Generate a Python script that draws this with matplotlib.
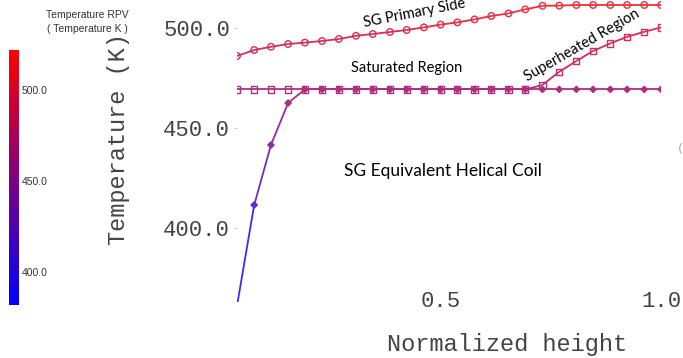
import matplotlib
matplotlib.use("Agg")
import matplotlib.pyplot as plt
import numpy as np
from matplotlib.collections import LineCollection
from matplotlib.colors import LinearSegmentedColormap, Normalize
from matplotlib.colorbar import ColorbarBase

# data
heights = [0.038, 0.077, 0.115, 0.154, 0.192, 0.231, 0.269, 0.308, 0.346, 0.385,
           0.423, 0.462, 0.500, 0.538, 0.577, 0.615, 0.654, 0.692, 0.731, 0.769,
           0.808, 0.846, 0.885, 0.923, 0.962, 1.000]
primary_T = [485.9, 488.9, 490.5, 491.9, 492.6, 493.4, 494.4, 496.0, 496.9, 497.9,
             498.9, 500.2, 501.6, 502.7, 504.2, 505.9, 507.2, 509.2, 511.0, 511.1,
             511.4, 511.4, 511.4, 511.4, 511.4, 511.4]
fluid_T = [469.2, 469.2, 469.2, 469.2, 469.2, 469.2, 469.2, 469.2, 469.2, 469.2,
           469.2, 469.2, 469.2, 469.2, 469.2, 469.2, 469.2, 469.2, 471.4, 478.0,
           483.4, 488.4, 492.2, 495.5, 498.0, 500.2]
wall_T = [361.0, 411.4, 441.4, 462.4, 469.2, 469.2, 469.2, 469.2, 469.2, 469.2,
          469.2, 469.2, 469.2, 469.2, 469.2, 469.2, 469.2, 469.2, 469.2, 469.2,
          469.2, 469.2, 469.2, 469.2, 469.2, 469.2]
cbar_ticks = [400.0, 450.0, 500.0]
T_min, T_max = 382.0, 522.0

cmap = LinearSegmentedColormap.from_list("rpv", ["#0000ff", "#ff0000"])
norm = Normalize(T_min, T_max)

fig = plt.figure(figsize=(6.83, 3.58), dpi=100)
ax = fig.add_axes([237 / 683, 56 / 358, 424 / 683, 302 / 358])
for s in ax.spines.values():
    s.set_visible(False)


def line_col(v):
    # line colours look a bit washed out in the screenshot
    c = np.array(cmap(norm(v)))
    c[..., :3] = c[..., :3] * 0.82 + 0.18
    return c


def draw(x, y, marker, ms, filled):
    x = np.asarray(x)
    y = np.asarray(y)
    pts = np.column_stack([x, y]).reshape(-1, 1, 2)
    segs = np.concatenate([pts[:-1], pts[1:]], axis=1)
    mids = (y[:-1] + y[1:]) / 2
    lc = LineCollection(segs, colors=line_col(mids), linewidths=1.3)
    ax.add_collection(lc)
    cols = line_col(y)
    ax.scatter(x, y, s=ms, marker=marker, facecolors=cols if filled else "none",
               edgecolors=cols, linewidths=1.0, zorder=3)


draw(heights, primary_T, "o", 22, False)
draw(heights, fluid_T, "s", 20, False)
draw(heights, wall_T, "D", 10, True)

ax.set_xlim(0.038, 1.0)
ax.set_ylim(362.9, 513.9)
ax.set_xticks([0.5, 1.0])
ax.set_xticklabels(["0.5", "1.0"])
ax.set_yticks([400, 450, 500])
ax.set_yticklabels(["400.0", "450.0", "500.0"])
mono = "Liberation Mono"
ax.tick_params(axis="y", length=2, color="#cccccc", pad=3, labelsize=16, labelcolor="#444444")
ax.tick_params(axis="x", length=0, pad=-8, labelsize=16, labelcolor="#444444")
for lab in ax.get_xticklabels() + ax.get_yticklabels():
    lab.set_family(mono)

fig.text(118 / 683, 1 - 139 / 358, "Temperature (K)", rotation=90, family=mono,
         fontsize=17, color="#444444", ha="center", va="center")
fig.text(507 / 683, 1 - 345 / 358, "Normalized height", family=mono,
         fontsize=17, color="#444444", ha="center", va="center")

# annotations
ann = "Lato"
fig.text(414 / 683, 1 - 13 / 358, "SG Primary Side", family=ann, fontsize=10.5,
         rotation=11, ha="center", va="center", color="black")
fig.text(407 / 683, 1 - 68 / 358, "Saturated Region", family=ann, fontsize=10.5,
         ha="center", va="center", color="black")
fig.text(443 / 683, 1 - 171 / 358, "SG Equivalent Helical Coil", family=ann,
         fontsize=12.5, ha="center", va="center", color="black")
fig.text(582 / 683, 1 - 45 / 358, "Superheated Region", family=ann, fontsize=10.5,
         rotation=30, ha="center", va="center", color="black")
fig.text(680 / 683, 1 - 150 / 358, "(", fontsize=9, color="#aaaaaa",
         ha="center", va="center")

# colorbar
cax = fig.add_axes([9 / 683, 53 / 358, 10 / 683, 255 / 358])
cb = ColorbarBase(cax, cmap=cmap, norm=norm, ticks=cbar_ticks)
cb.outline.set_visible(False)
cb.ax.tick_params(length=0, pad=2, labelsize=7.5, labelcolor="#333333")
cb.ax.set_yticklabels(["%.1f" % t for t in cbar_ticks])
for lab in cb.ax.get_yticklabels():
    lab.set_family("Liberation Sans")
fig.text(87 / 683, 1 - 15 / 358, "Temperature RPV", family="Liberation Sans",
         fontsize=7.5, ha="center", va="center", color="#333333")
fig.text(87 / 683, 1 - 29 / 358, "( Temperature K )", family="Liberation Sans",
         fontsize=7.5, ha="center", va="center", color="#333333")

fig.savefig("out.png", dpi=100, facecolor="white")
